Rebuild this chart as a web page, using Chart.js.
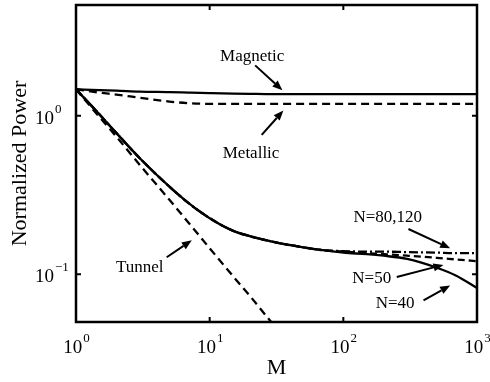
<!DOCTYPE html>
<html>
<head>
<meta charset="utf-8">
<script src="https://cdn.jsdelivr.net/npm/chart.js@4"></script>
<style>
  html, body { margin: 0; padding: 0; background: #fff; }
  canvas { display: block; }
</style>
</head>
<body>
<canvas id="powerChart" width="490" height="382"></canvas>
<script>
"use strict";

// values (M on x, normalized power on y)
const mValues = [1, 1.5, 2, 3, 5, 7, 10, 15, 20, 30, 50, 70, 100, 150, 200, 300, 500, 700, 1000];
const magnetic = [1.47, 1.45, 1.44, 1.42, 1.41, 1.40, 1.39, 1.38, 1.375, 1.37, 1.37, 1.37, 1.37, 1.37, 1.37, 1.37, 1.37, 1.37, 1.37];
const metallic = [1.47, 1.40, 1.36, 1.30, 1.23, 1.20, 1.19, 1.19, 1.19, 1.19, 1.19, 1.19, 1.19, 1.19, 1.19, 1.19, 1.19, 1.19, 1.19];
const tunnel = [1.47, 0.98, 0.74, 0.49, 0.295, 0.21, 0.146, 0.097, 0.073, 0.048, null, null, null, null, null, null, null, null, null];
const n40 = [1.47, 1.02, 0.78, 0.54, 0.357, 0.28, 0.226, 0.188, 0.174, 0.160, 0.148, 0.142, 0.137, 0.134, 0.131, 0.125, 0.110, 0.098, 0.082];
const n50 = [1.47, 1.02, 0.78, 0.54, 0.357, 0.28, 0.226, 0.188, 0.174, 0.160, 0.148, 0.142, 0.139, 0.136, 0.134, 0.131, 0.127, 0.124, 0.121];
const n80 = [1.47, 1.02, 0.78, 0.54, 0.357, 0.28, 0.226, 0.188, 0.174, 0.160, 0.148, 0.142, 0.140, 0.139, 0.139, 0.138, 0.137, 0.136, 0.136];

const xTicks = [1, 10, 100, 1000];
const xTickExp = ["0", "1", "2", "3"];
const yTicks = [1, 0.1];
const yTickExp = ["0", "\u22121"];

const xTitle = "M";
const yTitle = "Normalized Power";

// labels with arrows, placed in data coordinates [M, power]
const notes = [
  { text: "Magnetic", at: [20.8, 2.37], tail: [21.9, 2.08], head: [35, 1.45] },
  { text: "Metallic", at: [20.4, 0.58], tail: [24.5, 0.757], head: [35.6, 1.08] },
  { text: "Tunnel", at: [3.0, 0.11], tail: [4.77, 0.128], head: [7.35, 0.164] },
  { text: "N=80,120", at: [215, 0.229], tail: [307, 0.193], head: [630, 0.146] },
  { text: "N=50", at: [163, 0.0943], tail: [251, 0.0962], head: [561, 0.1146] },
  { text: "N=40", at: [244, 0.065], tail: [398, 0.0684], head: [630, 0.0851] }
];

const serif = '"Liberation Serif", "Times New Roman", serif';

function toPoints(values) {
  return mValues.map((m, i) => ({ x: m, y: values[i] }));
}

function lineSet(values, dash) {
  return {
    data: toPoints(values),
    borderColor: "#000",
    borderWidth: 2.3,
    borderDash: dash,
    pointRadius: 0,
    fill: false,
    cubicInterpolationMode: "monotone",
    spanGaps: false
  };
}

function drawArrow(ctx, x1, y1, x2, y2) {
  const ang = Math.atan2(y2 - y1, x2 - x1);
  const len = 10;
  const half = 4;
  const bx = x2 - len * Math.cos(ang);
  const by = y2 - len * Math.sin(ang);
  ctx.beginPath();
  ctx.moveTo(x1, y1);
  ctx.lineTo(bx, by);
  ctx.stroke();
  ctx.beginPath();
  ctx.moveTo(x2, y2);
  ctx.lineTo(bx + half * Math.sin(ang), by - half * Math.cos(ang));
  ctx.lineTo(bx - half * Math.sin(ang), by + half * Math.cos(ang));
  ctx.closePath();
  ctx.fill();
}

const decorPlugin = {
  id: "decor",
  afterDraw(chart) {
    const ctx = chart.ctx;
    const area = chart.chartArea;
    const xs = chart.scales.x;
    const ys = chart.scales.y;
    ctx.save();
    ctx.fillStyle = "#000";
    ctx.strokeStyle = "#000";

    // frame
    ctx.lineWidth = 2.5;
    ctx.setLineDash([]);
    ctx.strokeRect(area.left, area.top, area.right - area.left, area.bottom - area.top);

    // inward ticks on all sides
    ctx.lineWidth = 2;
    ctx.beginPath();
    xTicks.forEach((v) => {
      const px = xs.getPixelForValue(v);
      ctx.moveTo(px, area.bottom);
      ctx.lineTo(px, area.bottom - 5);
      ctx.moveTo(px, area.top);
      ctx.lineTo(px, area.top + 5);
    });
    yTicks.forEach((v) => {
      const py = ys.getPixelForValue(v);
      ctx.moveTo(area.left, py);
      ctx.lineTo(area.left + 5, py);
      ctx.moveTo(area.right, py);
      ctx.lineTo(area.right - 5, py);
    });
    ctx.stroke();

    // tick labels with superscripts
    ctx.textBaseline = "alphabetic";
    xTicks.forEach((v, i) => {
      const px = xs.getPixelForValue(v);
      ctx.font = "19px " + serif;
      const baseW = ctx.measureText("10").width;
      ctx.font = "13px " + serif;
      const expW = ctx.measureText(xTickExp[i]).width;
      const left = px - (baseW + expW) / 2;
      ctx.textAlign = "left";
      ctx.font = "19px " + serif;
      ctx.fillText("10", left, area.bottom + 31);
      ctx.font = "13px " + serif;
      ctx.fillText(xTickExp[i], left + baseW + 1, area.bottom + 20);
    });
    yTicks.forEach((v, i) => {
      const py = ys.getPixelForValue(v);
      ctx.textAlign = "left";
      ctx.font = "19px " + serif;
      ctx.fillText("10", 35, py + 8);
      const baseW = ctx.measureText("10").width;
      ctx.font = "13px " + serif;
      ctx.fillText(yTickExp[i], 35 + baseW + 1, py - 3);
    });

    // axis titles
    ctx.font = "22px " + serif;
    ctx.textAlign = "center";
    ctx.textBaseline = "middle";
    ctx.fillText(xTitle, (area.left + area.right) / 2, 368);
    ctx.save();
    ctx.translate(20, (area.top + area.bottom) / 2);
    ctx.rotate(-Math.PI / 2);
    ctx.fillText(yTitle, 0, 0);
    ctx.restore();

    // annotations
    ctx.font = "17px " + serif;
    ctx.lineWidth = 2;
    notes.forEach((n) => {
      ctx.fillText(n.text, xs.getPixelForValue(n.at[0]), ys.getPixelForValue(n.at[1]));
      drawArrow(
        ctx,
        xs.getPixelForValue(n.tail[0]), ys.getPixelForValue(n.tail[1]),
        xs.getPixelForValue(n.head[0]), ys.getPixelForValue(n.head[1])
      );
    });
    ctx.restore();
  }
};

new Chart(document.getElementById("powerChart"), {
  type: "line",
  data: {
    datasets: [
      lineSet(magnetic, []),
      lineSet(metallic, [8, 5]),
      lineSet(tunnel, [8, 5]),
      lineSet(n80, [9, 3, 2, 3]),
      lineSet(n50, [7, 4]),
      lineSet(n40, [])
    ]
  },
  options: {
    responsive: false,
    devicePixelRatio: 1,
    animation: false,
    layout: { padding: { left: 76, top: 5, right: 13, bottom: 60 } },
    plugins: { legend: { display: false }, tooltip: { enabled: false } },
    scales: {
      x: { type: "logarithmic", min: 1, max: 1000, display: false },
      y: { type: "logarithmic", min: 0.05, max: 5, display: false }
    }
  },
  plugins: [decorPlugin]
});
</script>
</body>
</html>
